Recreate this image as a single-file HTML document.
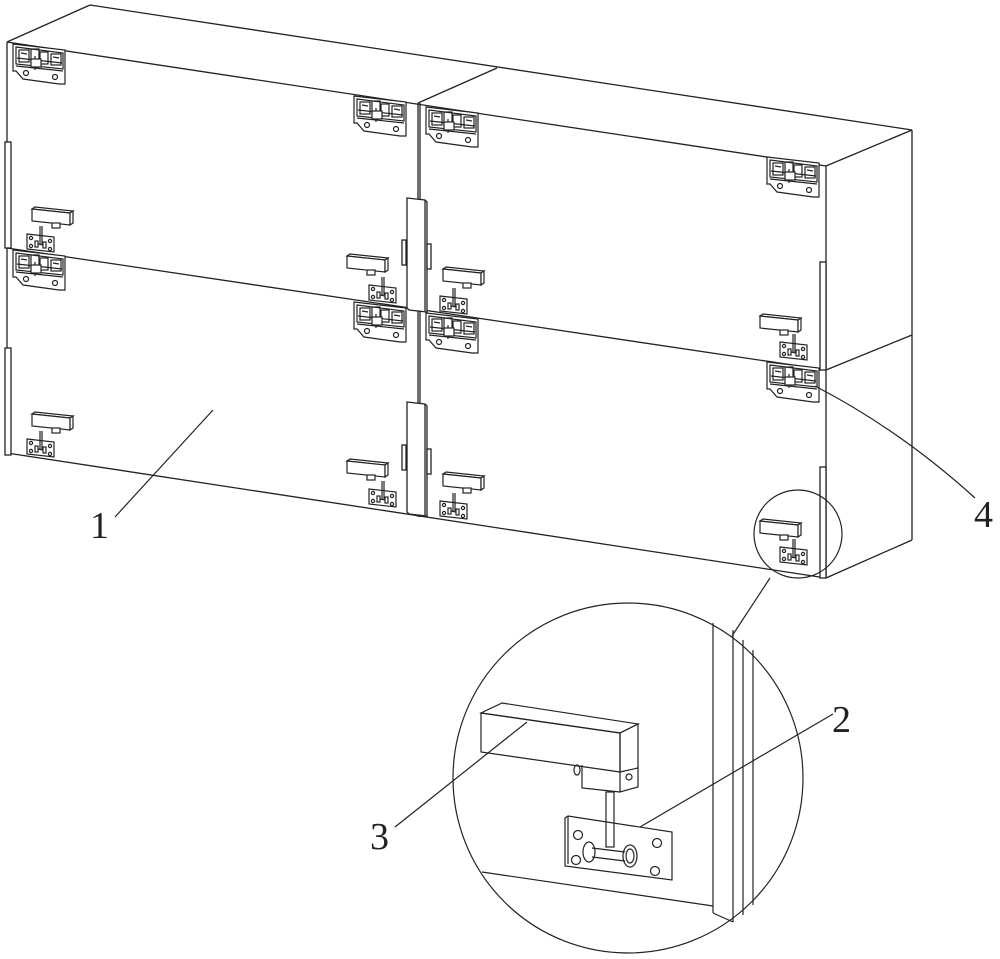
<!DOCTYPE html>
<html><head><meta charset="utf-8"><style>
html,body{margin:0;padding:0;background:#fff;width:1000px;height:959px;overflow:hidden}
svg{display:block}
text{font-family:"Liberation Serif",serif;font-size:38px;fill:#222}
</style></head><body>
<svg width="1000" height="959" viewBox="0 0 1000 959" xmlns="http://www.w3.org/2000/svg">
<defs>
<g id="hinge" fill="none" stroke="#222" stroke-width="1.2">
  <polygon points="0,0 52,6 52,40 46,40 10,35 3,27 0,27" fill="#fff"/>
  <polygon points="3,3 50,9 50,25 3,20" />
  <rect x="6" y="6" width="10" height="12"/>
  <rect x="18" y="5" width="8" height="14"/>
  <rect x="27" y="8" width="8" height="12"/>
  <rect x="38" y="10" width="10" height="11"/>
  <line x1="4" y1="14" x2="49" y2="19"/>
  <line x1="8" y1="9" x2="14" y2="10"/><line x1="40" y1="13" x2="46" y2="14"/>
  <line x1="22" y1="12" x2="22" y2="26"/>
  <rect x="18" y="15" width="10" height="8" fill="#fff"/>
  <circle cx="13" cy="29" r="2.5"/>
  <circle cx="42" cy="33" r="2.5"/>
  <line x1="3" y1="22" x2="50" y2="27"/>
</g>
<g id="handle" fill="none" stroke="#222" stroke-width="1.2">
  <polygon points="0,2 3,0 41,4 38,6" fill="#fff"/>
  <polygon points="0,2 38,6 38,18 0,14" fill="#fff"/>
  <polygon points="38,6 41,4 41,16 38,18" fill="#fff"/>
  <rect x="20" y="16" width="8" height="5" fill="#fff"/>
</g>
<g id="latch" fill="none" stroke="#222" stroke-width="1.2">
  <polygon points="0,0 27,3 27,18 0,15" fill="#fff"/>
  <circle cx="4" cy="4" r="1.6"/><circle cx="23" cy="7" r="1.6"/>
  <circle cx="4" cy="12" r="1.6"/><circle cx="23" cy="15" r="1.6"/>
  <rect x="8" y="7" width="3" height="6"/><rect x="16" y="8" width="3" height="6"/>
  <line x1="11" y1="10" x2="16" y2="11"/>
  <line x1="13" y1="-8" x2="13" y2="10"/><line x1="15" y1="-8" x2="15" y2="10"/>
</g>
</defs>
<g fill="none" stroke="#222" stroke-width="1.3">
  <line x1="7" y1="42" x2="90" y2="5"/>
  <line x1="90" y1="5" x2="912" y2="130"/>
  <line x1="7" y1="42" x2="826" y2="166"/>
  <line x1="418" y1="103" x2="497" y2="68"/>
  <line x1="826" y1="166" x2="912" y2="130"/>
  <line x1="7" y1="42" x2="7" y2="455"/>
  <line x1="7" y1="248" x2="826" y2="370"/>
  <line x1="826" y1="370" x2="912" y2="335"/>
  <line x1="7" y1="453" x2="826" y2="578"/>
  <line x1="826" y1="578" x2="912" y2="540"/>
  <line x1="912" y1="130" x2="912" y2="540"/>
  <line x1="826" y1="166" x2="826" y2="578"/>
  <line x1="418" y1="103" x2="418" y2="517"/>
  <line x1="420" y1="103" x2="420" y2="517"/>
  <rect x="5" y="142" width="6" height="106" fill="#fff"/>
  <rect x="5" y="348" width="6" height="107" fill="#fff"/>
  <polygon points="407,198 425,200 427,202 427,312 409,310 407,308" fill="#fff"/>
  <line x1="425" y1="200" x2="425" y2="311"/>
  <rect x="402" y="240" width="4" height="25" fill="#fff"/>
  <rect x="427" y="244" width="4" height="25" fill="#fff"/>
  <polygon points="407,402 425,404 427,406 427,516 409,514 407,512" fill="#fff"/>
  <line x1="425" y1="404" x2="425" y2="515"/>
  <rect x="402" y="445" width="4" height="25" fill="#fff"/>
  <rect x="427" y="449" width="4" height="25" fill="#fff"/>
  <rect x="820" y="262" width="6" height="108" fill="#fff"/>
  <rect x="820" y="467" width="6" height="111" fill="#fff"/>
</g>
<use href="#hinge" x="13" y="44"/>
<use href="#hinge" x="354" y="96"/>
<use href="#hinge" x="426" y="107"/>
<use href="#hinge" x="767" y="157"/>
<use href="#hinge" x="13" y="250"/>
<use href="#hinge" x="354" y="302"/>
<use href="#hinge" x="426" y="313"/>
<use href="#hinge" x="767" y="362"/>
<use href="#handle" x="32" y="207"/><use href="#latch" x="27" y="234"/>
<use href="#handle" x="347" y="254"/><use href="#latch" x="369" y="285"/>
<use href="#handle" x="443" y="267"/><use href="#latch" x="440" y="296"/>
<use href="#handle" x="760" y="314"/><use href="#latch" x="780" y="342"/>
<use href="#handle" x="32" y="412"/><use href="#latch" x="27" y="439"/>
<use href="#handle" x="347" y="459"/><use href="#latch" x="369" y="489"/>
<use href="#handle" x="443" y="472"/><use href="#latch" x="440" y="501"/>
<use href="#handle" x="760" y="519"/><use href="#latch" x="780" y="547"/>
<g fill="none" stroke="#222" stroke-width="1.2">
  <circle cx="798" cy="534" r="44"/>
  <line x1="770" y1="578" x2="732" y2="636"/>
  <circle cx="628" cy="778" r="175"/>
  <line x1="713" y1="623" x2="713" y2="913"/>
  <line x1="733" y1="630" x2="733" y2="922"/>
  <line x1="743" y1="640" x2="743" y2="915"/>
  <line x1="753" y1="650" x2="753" y2="905"/>
  <line x1="713" y1="913" x2="733" y2="922"/>
  <line x1="482" y1="872" x2="713" y2="906"/>
  <polygon points="481,713 502,703 638,724 620,733"/>
  <polygon points="481,713 620,733 620,772 481,752"/>
  <polygon points="620,733 638,724 638,787 620,792"/>
  <polyline points="582,765 582,788 620,792"/>
  <line x1="620" y1="772" x2="638" y2="768"/>
  <circle cx="629" cy="777" r="3"/>
  <ellipse cx="577" cy="770" rx="3" ry="5"/>
  <rect x="606" y="792" width="8" height="55"/>
  <polygon points="565,818 568,816 672,832 672,880 565,866"/>
  <line x1="568" y1="816" x2="568" y2="864"/>
  <circle cx="578" cy="835" r="4.5"/><circle cx="657" cy="843" r="4.5"/>
  <circle cx="576" cy="860" r="4.5"/><circle cx="655" cy="871" r="4.5"/>
  <ellipse cx="589" cy="852" rx="6" ry="10"/>
  <ellipse cx="630" cy="856" rx="7" ry="11"/><ellipse cx="630" cy="856" rx="4" ry="7"/>
  <line x1="592" y1="848" x2="625" y2="852"/><line x1="592" y1="857" x2="625" y2="861"/>
  <line x1="115" y1="517" x2="213" y2="410"/>
  <path d="M975,498 Q900,430 815,386"/>
  <line x1="833" y1="714" x2="640" y2="827"/>
  <line x1="395" y1="827" x2="527" y2="722"/>
</g>
<text x="90" y="538">1</text>
<text x="832" y="732">2</text>
<text x="370" y="849">3</text>
<text x="974" y="527">4</text>
</svg>
</body></html>
